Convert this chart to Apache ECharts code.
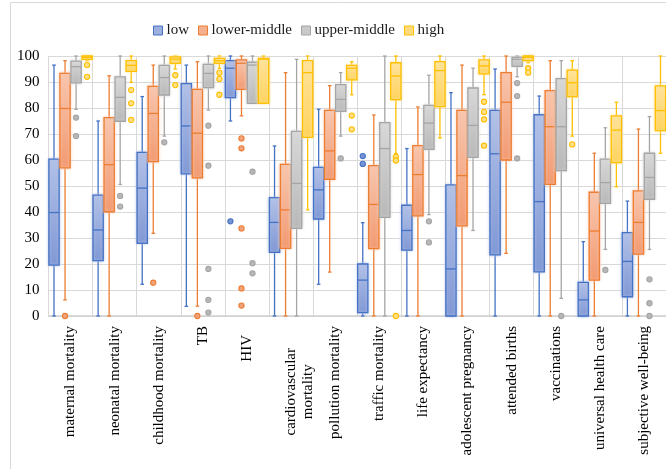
<!DOCTYPE html>
<html><head><meta charset="utf-8">
<script src="https://cdn.jsdelivr.net/npm/echarts@6/dist/echarts.min.js"></script>
<style>html,body{margin:0;padding:0;background:#fff}#c{width:666px;height:469px}</style>
</head><body><div id="c"></div>
<script>
const categories = ['maternal mortality','neonatal mortality','childhood mortality','TB','HIV','cardiovascular mortality','pollution mortality','traffic mortality','life expectancy','adolescent pregnancy','attended births','vaccinations','universal health care','subjective well-being'];
const groups = ['low','lower-middle','upper-middle','high'];
const yMin = 0, yMax = 100, yInterval = 10;

// [min, Q1, median, Q3, max] per category
const lowStats = [
  [0,19.6,39.8,60.3,96.5],[0,21.3,33.1,46.5,75],[12.2,27.9,49.2,62.9,84.4],[3.7,54.7,73.1,89.4,96.5],
  [75,84,95.3,98.2,100],[0,24.5,36,45.5,65.4],[12.2,37.3,48.5,57.2,79.5],[0,1.3,13.8,20,35.9],
  [0,25.3,32.9,42.6,64.4],[0,0,18.1,50.4,85.9],[0,23.5,62.4,79.1,95],[0,17,44,77.4,84.6],
  [0,0,6.2,12.9,28.6],[0,7.4,21,32.1,44.2]
];
const lowerMiddleStats = [
  [6.2,57,79.8,93.3,98.2],[0,40.1,58.2,76.3,92.4],[31.8,59.4,77.9,88.3,96.5],[3.8,53.1,70.3,87.2,97.8],
  [77,87.2,97.2,98.5,100],[0,26,40.8,58.3,93.6],[16.9,52.6,63.5,79.1,88.6],[0,25.9,42.9,57.8,77.3],
  [0,38.5,54.4,65.5,80.4],[0,34.7,54,79.1,96.5],[24.1,60,82.2,93.6,100],[0,50.6,72.8,86.7,98.2],
  [0,13.8,32.7,47.6,62.6],[0,23.8,36,48.1,71.9]
];
const upperMiddleStats = [
  [79.5,89.7,95.9,98,100],[50.6,74.9,84.1,92,100],[69.2,85,91.7,96.4,100],[79.2,87.8,93.3,96.8,100],
  [81.8,81.8,96.5,97.6,100],[0,33.7,51,71,98.7],[69.2,78.7,83.3,89,93.6],[0,37.9,64.4,74.4,100],
  [39,64.1,74.2,81,92.6],[32.9,61,73.3,87.7,95.3],[92,96,98.7,99.5,100],[6.8,55.9,72.8,91.3,98.2],
  [25.6,43.3,51.3,60.3,72.4],[25.6,44.9,53.3,62.6,76.7]
];
const highStats = [
  [98.2,98.7,99.5,100,100],[89.9,94.1,96.4,98.2,100],[95,97.2,98.8,99.7,100],[95.3,97.2,98.2,99.1,100],
  [81.8,81.8,98.8,99.1,100],[40.8,68.7,93.6,98.2,100],[85.1,90.8,95.3,96.4,97.8],[62.5,83.2,92.3,97.4,100],
  [68.5,80.5,94.4,97.8,100],[85.1,93.1,96.2,98.5,100],[97.4,98.2,99.5,100,100],[69.2,84.4,89.7,94.6,98.2],
  [49.7,59,71.5,77,82.2],[62.6,71.3,79,88.5,100]
];
// outliers: [category index, value]
const lowOutliers = [[4,36.4],[7,61.5],[7,58.5]];
const lowerMiddleOutliers = [[0,0],[2,12.8],[3,0],[4,68.3],[4,64.5],[4,33.7],[4,10.6],[4,4]];
const upperMiddleOutliers = [[0,76.3],[0,69.2],[1,46.2],[1,42.1],[2,66.8],[3,73.2],[3,57.8],[3,18.1],[3,6.2],[3,1.3],
  [4,55.5],[4,20.3],[4,16.4],[6,60.6],[8,36.4],[8,28.3],[10,89.6],[10,84.6],[10,60.6],[11,0],[12,17.7],[13,14.1],[13,4.9],[13,0]];
const highOutliers = [[0,96.5],[0,92],[1,86.9],[1,81.8],[1,75.4],[2,92.6],[2,88.8],[3,93.6],[3,91.2],[3,85.1],
  [6,77.1],[6,71.8],[7,61.2],[7,59.8],[7,0],[9,82.4],[9,78.5],[9,75.6],[9,65.5],[10,95.3],[10,93.6],[11,66]];

const palettes = [
  {line:'#4472c4', top:'#b2c1e7', bottom:'#8098d5', dot:'#7893d3', legend:'#9db0df'},
  {line:'#ed7d31', top:'#f8c6ae', bottom:'#f29a71', dot:'#f0a47e', legend:'#f4b08f'},
  {line:'#a5a5a5', top:'#d8d8d8', bottom:'#b8b8b8', dot:'#b7b7b7', legend:'#c9c9c9'},
  {line:'#ffc000', top:'#ffe39c', bottom:'#ffd35c', dot:'#ffe08a', legend:'#ffda7a'}
];
const statsList = [lowStats, lowerMiddleStats, upperMiddleStats, highStats];
const outlierList = [lowOutliers, lowerMiddleOutliers, upperMiddleOutliers, highOutliers];
const FONT = 'Liberation Serif';

function boxRenderer(k, pal) {
  return function (params, api) {
    const cat = api.value(0);
    const band = api.size([1, 0])[0];
    const off = (k - 1.5) * band * 0.25;
    const w = band * 0.232;
    const pMin = api.coord([cat, api.value(1)])[1];
    const pQ1 = api.coord([cat, api.value(2)])[1];
    const pMed = api.coord([cat, api.value(3)])[1];
    const pQ3 = api.coord([cat, api.value(4)])[1];
    const pMax = api.coord([cat, api.value(5)])[1];
    const x = api.coord([cat, 0])[0] + off;
    const cap = 1.8;
    const ls = {stroke: pal.line, lineWidth: 1.3};
    const grad = new echarts.graphic.LinearGradient(0, 0, 0, 1, [{offset:0,color:pal.top},{offset:1,color:pal.bottom}]);
    return {type:'group', children:[
      {type:'line', shape:{x1:x,y1:pMax,x2:x,y2:pQ3}, style:ls},
      {type:'line', shape:{x1:x,y1:pQ1,x2:x,y2:pMin}, style:ls},
      {type:'line', shape:{x1:x-cap,y1:pMax,x2:x+cap,y2:pMax}, style:ls},
      {type:'line', shape:{x1:x-cap,y1:pMin,x2:x+cap,y2:pMin}, style:ls},
      {type:'rect', shape:{x:x-w/2,y:pQ3,width:w,height:Math.max(pQ1-pQ3,0.5)}, style:{fill:grad, stroke:pal.line, lineWidth:1.3, shadowBlur:3, shadowColor:pal.top}},
      {type:'line', shape:{x1:x-w/2,y1:pMed,x2:x+w/2,y2:pMed}, style:ls}
    ]};
  };
}
function dotRenderer(k, pal) {
  return function (params, api) {
    const band = api.size([1, 0])[0];
    const off = (k - 1.5) * band * 0.25;
    const p = api.coord([api.value(0), api.value(1)]);
    return {type:'circle', shape:{cx:p[0]+off, cy:p[1], r:2.6}, style:{fill:pal.dot, stroke:pal.line, lineWidth:1.1}};
  };
}

const series = [];
groups.forEach((g, k) => {
  const pal = palettes[k];
  series.push({
    name: g, type: 'custom', renderItem: boxRenderer(k, pal),
    itemStyle: {color: pal.legend, borderColor: pal.line},
    encode: {x: 0, y: [1,2,3,4,5]},
    data: statsList[k].map((s, i) => [i].concat(s)),
    clip: false, z: 2
  });
});
groups.forEach((g, k) => {
  const pal = palettes[k];
  series.push({
    name: g, type: 'custom', renderItem: dotRenderer(k, pal),
    itemStyle: {color: pal.legend, borderColor: pal.line},
    encode: {x: 0, y: 1},
    data: outlierList[k],
    clip: false, z: 3
  });
});

const chart = echarts.init(document.getElementById('c'), null, {renderer: 'canvas'});
chart.setOption({
  animation: false,
  backgroundColor: '#fff',
  graphic: [{type:'rect', shape:{x:10.5, y:2.5, width:700, height:500}, style:{fill:'none', stroke:'#d9d9d9', lineWidth:1}, z:-10, silent:true}],
  legend: {
    left: 148, top: 18, itemWidth: 9, itemHeight: 9, itemGap: 9, icon: 'rect',
    textStyle: {fontFamily: FONT, fontSize: 15, color: '#1a1a1a', padding:[0,0,0,-1]},
    data: groups.map((g, k) => ({name: g, itemStyle: {color: palettes[k].legend, borderColor: palettes[k].line, borderWidth: 1}}))
  },
  grid: {left: 48.5, right: -3, top: 56, bottom: 153},
  xAxis: {
    type: 'category', data: categories, boundaryGap: true,
    axisLine: {show: true, lineStyle: {color: '#d0d0d0', width: 1.5}},
    axisTick: {show: false},
    splitLine: {show: true, interval: 0, lineStyle: {color: '#d9d9d9', width: 1}},
    axisLabel: {
      interval: 0, rotate: 90, margin: 10, fontFamily: FONT, fontSize: 15, color: '#000',
      formatter: function (v) {
        if (v === 'cardiovascular mortality') return '{cv| }\n{cv|cardiovascular}\n{cv|mortality}';
        if (v === 'HIV') return '{hv|HIV}';
        return v;
      },
      rich: {
        cv: {align: 'center', padding: [0, 22, 0, 0], fontFamily: FONT, fontSize: 15, color: '#000', lineHeight: 17},
        hv: {padding: [0, 9, 0, 0], fontFamily: FONT, fontSize: 15, color: '#000'}
      }
    }
  },
  yAxis: {
    type: 'value', min: yMin, max: yMax, interval: yInterval,
    axisLine: {show: false}, axisTick: {show: false},
    splitLine: {lineStyle: {color: '#d9d9d9', width: 1}},
    axisLabel: {fontFamily: FONT, fontSize: 15, color: '#000', margin: 9}
  },
  series: series
});
</script>
</body></html>
